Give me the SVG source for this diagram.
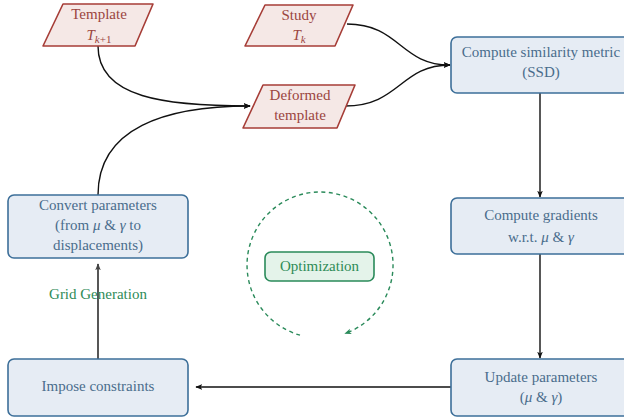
<svg xmlns="http://www.w3.org/2000/svg" width="624" height="417" viewBox="0 0 624 417">
<defs>
<style>
text{font-family:"Liberation Serif","DejaVu Serif",serif;font-size:15px;text-anchor:middle}
.io{fill:#f5e8e6;stroke:#a63d37;stroke-width:1.6;stroke-linejoin:round}
.io-t{fill:#9b4540}
.box{fill:#e6ecf4;stroke:#3d6f99;stroke-width:1.6}
.box-t{fill:#4a6c8c}
.g-box{fill:#e4f3ea;stroke:#2a8a5a;stroke-width:1.6}
.g-t{fill:#2e8b57}
.m{font-style:italic}
.c{fill:none;stroke:#111;stroke-width:1.4}
</style>
<marker id="ah" viewBox="0 0 10 10" refX="9" refY="5" markerWidth="7" markerHeight="7" orient="auto" markerUnits="userSpaceOnUse">
<path d="M0,1 L10,5 L0,9 L2.5,5 Z" fill="#111"/>
</marker>
<marker id="ahg" viewBox="0 0 10 10" refX="9" refY="5" markerWidth="7" markerHeight="7" orient="auto" markerUnits="userSpaceOnUse">
<path d="M0,1 L10,5 L0,9 L2.5,5 Z" fill="#2a8a5a"/>
</marker>
<marker id="ahd" viewBox="0 0 10 10" refX="9" refY="5" markerWidth="7" markerHeight="7" orient="auto" markerUnits="userSpaceOnUse">
<path d="M0,1 L10,5 L0,9 L2.5,5 Z" fill="#444"/>
</marker>
</defs>
<rect width="624" height="417" fill="#fff"/>

<g id="connectors">
<path class="c" d="M98,46 C98,98 165,106 250,106" marker-end="url(#ah)"/>
<path class="c" d="M98,195 C98,128 165,106 250,106" marker-end="url(#ah)"/>
<path class="c" d="M347,24 C400,24 400,65 450,65" marker-end="url(#ah)"/>
<path class="c" d="M345,106 C400,106 400,65 450,65" marker-end="url(#ah)"/>
<path class="c" d="M540,93 L540,197" marker-end="url(#ah)"/>
<path class="c" d="M540,254 L540,358" marker-end="url(#ah)"/>
<path class="c" d="M451,387 L196,387" marker-end="url(#ah)"/>
<path d="M98,359 L98,264" fill="none" stroke="#444" stroke-width="1.8" marker-end="url(#ahd)"/>
</g>

<g id="template">
<path class="io" d="M63,4 L153,4 L135,46 L43,46 Z"/>
<text class="io-t" x="99" y="19">Template</text>
<text class="io-t" x="99" y="40"><tspan class="m">T</tspan><tspan font-size="11" class="m" dy="3">k</tspan><tspan font-size="11" dy="0">+1</tspan></text>
</g>

<g id="study">
<path class="io" d="M265,5 L353,5 L335,46 L245,46 Z"/>
<text class="io-t" x="299" y="20">Study</text>
<text class="io-t" x="299" y="40"><tspan class="m">T</tspan><tspan font-size="11" class="m" dy="3">k</tspan></text>
</g>

<g id="deformed">
<path class="io" d="M263,85 L355,85 L337,128 L243,128 Z"/>
<text class="io-t" x="300" y="100">Deformed</text>
<text class="io-t" x="300" y="120">template</text>
</g>

<g id="similarity">
<rect class="box" x="451" y="37" width="182" height="56" rx="6"/>
<text class="box-t" x="541" y="57">Compute similarity metric</text>
<text class="box-t" x="541" y="77">(SSD)</text>
</g>

<g id="gradients">
<rect class="box" x="451" y="198" width="182" height="56" rx="6"/>
<text class="box-t" x="541" y="220">Compute gradients</text>
<text class="box-t" x="541" y="242">w.r.t. <tspan class="m">μ</tspan> &amp; <tspan class="m">γ</tspan></text>
</g>

<g id="update">
<rect class="box" x="451" y="359" width="182" height="57" rx="6"/>
<text class="box-t" x="541" y="382">Update parameters</text>
<text class="box-t" x="541" y="402">(<tspan class="m">μ</tspan> &amp; <tspan class="m">γ</tspan>)</text>
</g>

<g id="impose">
<rect class="box" x="8" y="359" width="180" height="57" rx="6"/>
<text class="box-t" x="98" y="391">Impose constraints</text>
</g>

<g id="convert">
<rect class="box" x="8" y="195" width="180" height="63" rx="6"/>
<text class="box-t" x="98" y="210">Convert parameters</text>
<text class="box-t" x="98" y="230">(from <tspan class="m">μ</tspan> &amp; <tspan class="m">γ</tspan> to</text>
<text class="box-t" x="98" y="250">displacements)</text>
</g>

<g id="grid-label">
<text class="g-t" x="98" y="299">Grid Generation</text>
</g>

<g id="optimization">
<path d="M300,335.2 A73,73 0 1 1 345,333.6" fill="none" stroke="#2a8a5a" stroke-width="1.4" stroke-dasharray="4 3.5" marker-end="url(#ahg)"/>
<rect class="g-box" x="265" y="252" width="109" height="29" rx="6"/>
<text class="g-t" x="319.5" y="271">Optimization</text>
</g>
</svg>
